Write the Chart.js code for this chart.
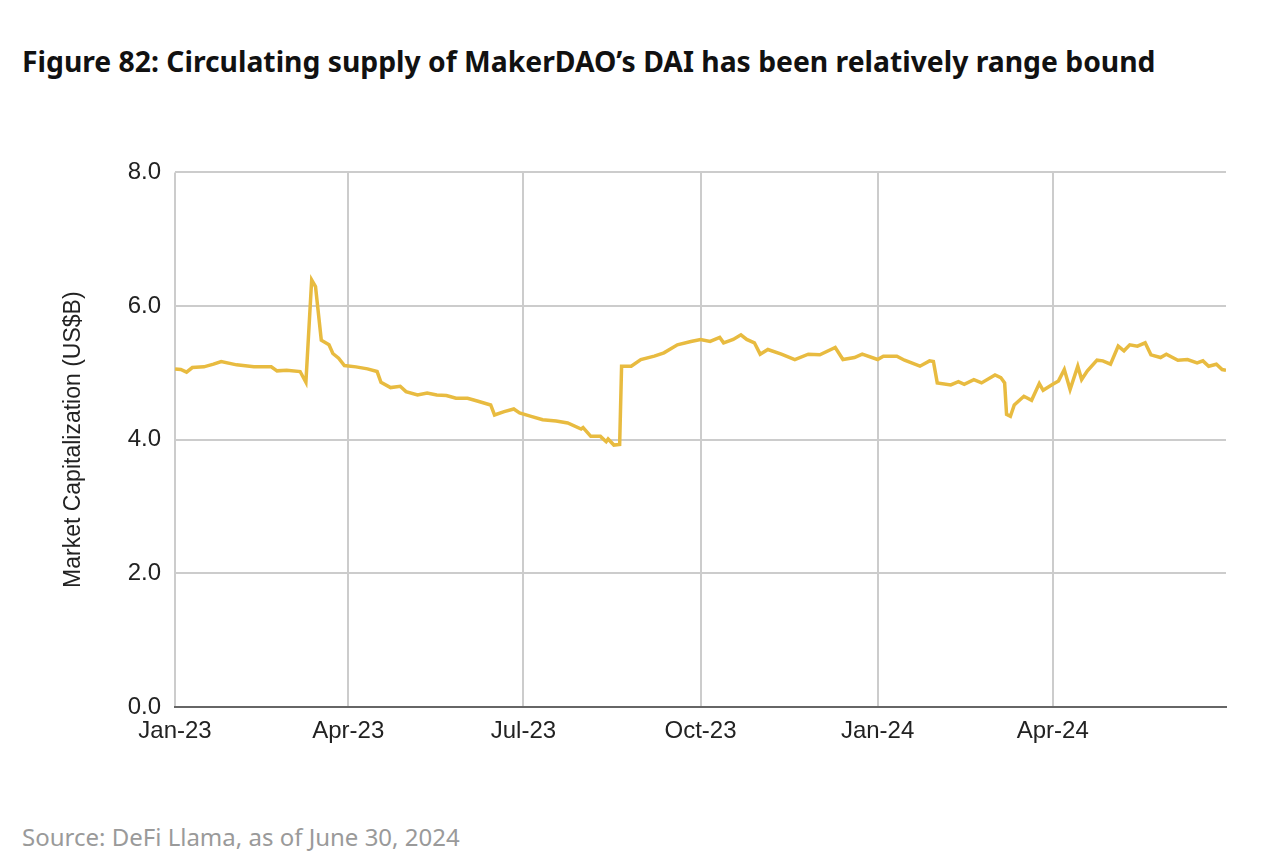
<!DOCTYPE html>
<html>
<head>
<meta charset="utf-8">
<script src="https://cdn.jsdelivr.net/npm/chart.js@4"></script>
<style>
  body { margin: 0; background: #fff; width: 1280px; height: 868px; position: relative; overflow: hidden; }
  #title { position: absolute; left: 22px; top: 42px; font: 700 28.3px "Noto Sans", sans-serif; color: #111; white-space: nowrap; }
  #source { position: absolute; left: 22px; top: 820px; font: 400 24px "Noto Sans", sans-serif; color: #9a9a9a; white-space: nowrap; }
  #wrap { position: absolute; left: 0; top: 144px; width: 1280px; height: 626px; }
</style>
</head>
<body>
<div id="title">Figure 82: Circulating supply of MakerDAO’s DAI has been relatively range bound</div>
<div id="wrap"><canvas id="daiChart"></canvas></div>
<div id="source">Source: DeFi Llama, as of June 30, 2024</div>
<script>
// days since Jan 1, 2023
const days = [0, 3, 6, 9, 15, 20, 24, 32, 41, 50, 53, 58, 65, 68, 71, 73, 76, 80, 82, 85, 88, 94, 100, 105, 107, 112, 117, 120, 126, 131, 136, 141, 146, 152, 157, 164, 166, 171, 176, 179, 185, 191, 198, 204, 211, 212, 216, 221, 224, 225, 228, 231, 232, 237, 242, 249, 254, 261, 268, 273, 278, 283, 285, 290, 294, 297, 301, 304, 308, 315, 322, 329, 335, 343, 347, 353, 357, 365, 368, 375, 379, 387, 392, 394, 396, 403, 407, 410, 415, 419, 426, 429, 431, 432, 434, 436, 441, 445, 449, 451, 456, 459, 462, 465, 469, 471, 474, 479, 482, 486, 490, 493, 496, 500, 504, 507, 512, 515, 521, 526, 531, 534, 537, 541, 544, 546];

// DAI market cap, US$B
const supply = [5.06, 5.05, 5.01, 5.08, 5.09, 5.13, 5.17, 5.12, 5.09, 5.09, 5.03, 5.04, 5.02, 4.86, 6.39, 6.29, 5.49, 5.42, 5.29, 5.22, 5.11, 5.09, 5.06, 5.02, 4.86, 4.78, 4.80, 4.72, 4.67, 4.70, 4.67, 4.66, 4.62, 4.62, 4.58, 4.52, 4.37, 4.42, 4.46, 4.40, 4.35, 4.30, 4.28, 4.25, 4.16, 4.18, 4.05, 4.05, 3.97, 4.01, 3.92, 3.93, 5.10, 5.10, 5.20, 5.25, 5.30, 5.42, 5.47, 5.50, 5.47, 5.53, 5.45, 5.50, 5.57, 5.50, 5.45, 5.28, 5.35, 5.28, 5.20, 5.28, 5.27, 5.38, 5.20, 5.23, 5.28, 5.20, 5.25, 5.25, 5.19, 5.10, 5.18, 5.17, 4.85, 4.82, 4.87, 4.83, 4.90, 4.85, 4.97, 4.93, 4.85, 4.38, 4.35, 4.52, 4.65, 4.59, 4.84, 4.74, 4.83, 4.88, 5.05, 4.75, 5.10, 4.90, 5.03, 5.19, 5.18, 5.13, 5.40, 5.33, 5.42, 5.40, 5.45, 5.27, 5.23, 5.28, 5.19, 5.20, 5.15, 5.18, 5.10, 5.13, 5.05, 5.04];

const tickDays = [0, 90, 181, 273, 365, 456];
const tickLabels = ["Jan-23", "Apr-23", "Jul-23", "Oct-23", "Jan-24", "Apr-24"];
const lastDay = 546;

const points = days.map((d, i) => ({ x: d, y: supply[i] }));

new Chart(document.getElementById("daiChart"), {
  type: "line",
  data: {
    datasets: [{
      data: points,
      borderColor: "#E8BB40",
      borderWidth: 3.5,
      pointRadius: 0,
      tension: 0,
      fill: false
    }]
  },
  options: {
    responsive: true,
    maintainAspectRatio: false,
    animation: false,
    layout: { padding: { top: 16, right: 54, bottom: 23, left: 0 } },
    plugins: { legend: { display: false }, tooltip: { enabled: false } },
    scales: {
      x: {
        type: "linear",
        min: 0,
        max: lastDay,
        afterBuildTicks: (scale) => { scale.ticks = tickDays.map(v => ({ value: v })); },
        afterFit: (scale) => { scale.height = 40; },
        grid: { color: "#cccccc", lineWidth: 2, drawTicks: false },
        border: { color: "#666666", width: 2 },
        ticks: {
          padding: 10,
          maxRotation: 0,
          autoSkip: false,
          color: "#222",
          font: { family: "Liberation Sans, Arial, sans-serif", size: 24 },
          callback: (value) => {
            const i = tickDays.indexOf(value);
            return i >= 0 ? tickLabels[i] : "";
          }
        }
      },
      y: {
        min: 0,
        max: 8,
        afterFit: (scale) => { scale.width = 175; },
        grid: { color: "#cccccc", lineWidth: 2, drawTicks: false },
        border: { display: false },
        ticks: {
          stepSize: 2,
          padding: 14,
          color: "#222",
          font: { family: "Liberation Sans, Arial, sans-serif", size: 24 },
          callback: (value) => value.toFixed(1)
        },
        title: {
          display: true,
          text: "Market Capitalization (US$B)",
          color: "#222",
          padding: { top: 60, bottom: 0 },
          font: { family: "Liberation Sans, Arial, sans-serif", size: 23 }
        }
      }
    }
  }
});
</script>
</body>
</html>
